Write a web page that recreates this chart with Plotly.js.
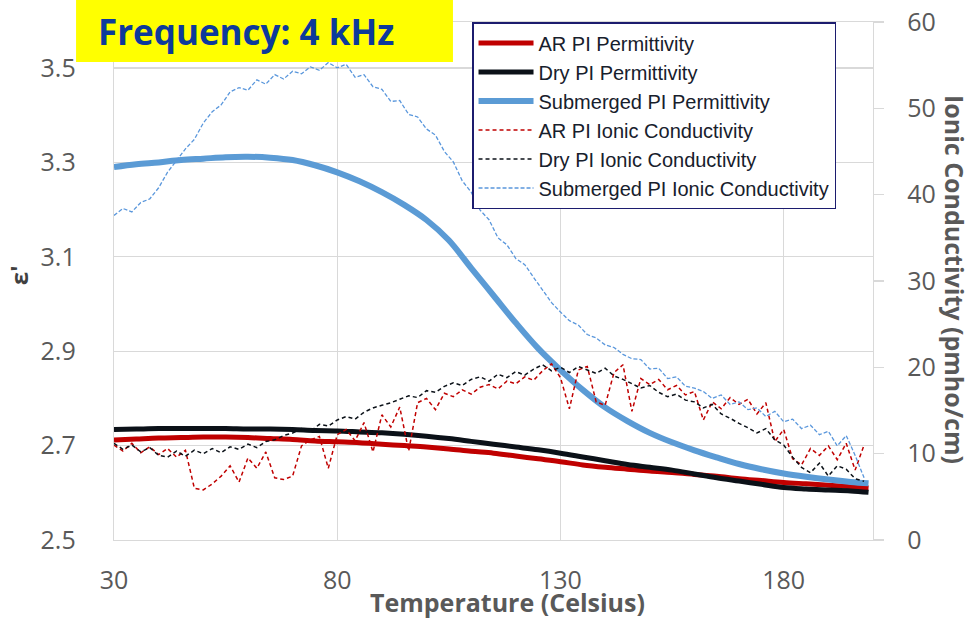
<!DOCTYPE html>
<html><head><meta charset="utf-8">
<script src="https://cdn.plot.ly/plotly-3.0.1.min.js"></script>
<style>html,body{margin:0;padding:0;background:#fff}#chart{width:973px;height:620px}</style>
</head><body><div id="chart"></div>
<script>
// Temperatures (Celsius) for the smooth permittivity curves
const tempsPerm = [30,35,40,45,50,55,60,65,70,75,80,85,90,95,100,105,110,115,120,125,130,135,140,145,150,155,160,165,170,175,180,185,190,195,199];
const arPerm  = [2.712,2.714,2.716,2.717,2.718,2.718,2.717,2.715,2.713,2.710,2.708,2.706,2.703,2.700,2.697,2.693,2.688,2.684,2.678,2.672,2.666,2.659,2.654,2.650,2.646,2.643,2.639,2.635,2.630,2.626,2.622,2.619,2.616,2.613,2.610];
const dryPerm = [2.734,2.735,2.736,2.736,2.736,2.736,2.735,2.735,2.734,2.732,2.731,2.729,2.727,2.724,2.720,2.715,2.709,2.703,2.697,2.691,2.684,2.676,2.668,2.660,2.654,2.648,2.640,2.632,2.625,2.618,2.611,2.608,2.606,2.604,2.601];
const subPerm = [3.290,3.296,3.300,3.305,3.308,3.311,3.312,3.310,3.305,3.294,3.279,3.260,3.237,3.210,3.178,3.135,3.076,3.018,2.960,2.906,2.860,2.818,2.781,2.752,2.727,2.707,2.690,2.675,2.661,2.650,2.641,2.634,2.628,2.623,2.620];

// Temperatures (Celsius) for the noisy ionic conductivity curves
const tempsCond = [30,32,34,36,38,40,42,44,46,48,50,52,54,56,58,60,62,64,66,68,70,72,74,76,78,80,82,84,86,88,90,92,94,96,98,100,102,104,106,108,110,112,114,116,118,120,122,124,126,128,130,132,134,136,138,140,142,144,146,148,150,152,154,156,158,160,162,164,166,168,170,172,174,176,178,180,182,184,186,188,190,192,194,196,198];
const arCond  = [11.0,10.3,11.2,10.1,10.8,9.9,10.6,9.6,10.4,6.0,5.8,6.5,7.4,8.6,6.7,9.5,8.3,10.2,7.2,7.0,7.4,10.9,11.6,12.0,8.3,12.2,12.8,11.5,13.6,10.2,14.5,13.1,15.4,10.3,15.9,16.4,15.1,17.0,16.6,17.4,16.9,17.7,18.0,17.5,18.4,18.1,18.9,18.5,19.6,20.4,18.8,15.2,19.7,20.1,16.0,15.6,19.4,20.3,14.9,18.7,18.0,18.6,17.4,17.9,16.8,17.2,13.9,16.0,15.2,16.5,15.7,16.3,14.6,15.9,11.4,12.8,9.4,8.7,10.6,9.8,10.9,9.3,11.2,8.1,11.0];
const dryCond = [11.2,10.5,11.0,10.2,10.7,9.8,9.6,10.3,9.7,10.4,10.0,10.6,10.1,10.8,10.5,11.1,10.7,11.4,11.6,12.1,12.4,12.9,12.6,13.4,13.2,13.9,14.3,14.0,14.8,15.3,15.6,15.9,16.3,16.7,16.5,17.3,17.1,17.8,18.2,17.9,18.6,18.9,18.4,19.2,18.8,19.5,19.1,19.8,20.3,19.6,20.0,19.4,20.1,19.7,19.3,19.9,19.0,18.6,18.1,17.6,17.9,17.1,16.6,16.9,16.2,16.0,15.3,15.7,14.6,14.1,13.5,13.0,12.4,12.9,11.6,11.0,9.6,8.4,7.8,8.9,7.4,8.6,8.2,7.1,6.8];
const subCond = [37.6,38.4,38.0,39.1,39.5,40.8,42.6,43.9,45.3,46.4,48.3,49.6,50.4,51.9,52.4,52.1,53.3,52.8,53.9,53.4,54.3,54.0,54.8,54.4,55.3,54.7,55.1,53.6,53.9,52.5,52.2,50.8,50.9,49.3,49.0,47.6,46.9,45.0,43.8,41.6,40.3,38.2,37.1,35.0,34.2,32.6,31.9,30.4,28.9,27.5,26.4,25.4,24.9,23.8,23.4,22.6,22.3,21.5,21.0,20.9,19.8,19.9,18.7,18.9,17.8,17.6,17.2,16.4,16.8,15.7,16.0,15.1,15.3,14.3,14.9,13.7,14.0,12.9,13.3,12.2,12.6,10.9,12.1,9.8,7.2];

const seriesNames = ["AR PI Permittivity","Dry PI Permittivity","Submerged PI Permittivity","AR PI Ionic Conductivity","Dry PI Ionic Conductivity","Submerged PI Ionic Conductivity"];
const xTicks = [30,80,130,180];
const yTicks = [2.5,2.7,2.9,3.1,3.3,3.5];
const y2Ticks = [0,10,20,30,40,50,60];

const RED = '#c00000', BLK = '#0b1118', BLU = '#5b9bd5', BLU2 = '#5a97dc';

const traces = [
  {x: tempsPerm, y: arPerm,  name: seriesNames[0], mode:'lines', line:{color:RED, width:5, shape:'spline'}, yaxis:'y'},
  {x: tempsPerm, y: dryPerm, name: seriesNames[1], mode:'lines', line:{color:BLK, width:5, shape:'spline'}, yaxis:'y'},
  {x: tempsPerm, y: subPerm, name: seriesNames[2], mode:'lines', line:{color:BLU, width:6, shape:'spline'}, yaxis:'y'},
  {x: tempsCond, y: arCond,  name: seriesNames[3], mode:'lines', line:{color:RED, width:1.5, dash:'4px,3px'}, yaxis:'y2'},
  {x: tempsCond, y: dryCond, name: seriesNames[4], mode:'lines', line:{color:BLK, width:1.5, dash:'4px,3px'}, yaxis:'y2'},
  {x: tempsCond, y: subCond, name: seriesNames[5], mode:'lines', line:{color:BLU2, width:1.3, dash:'4px,2px'}, yaxis:'y2'}
];

const tickFont = {family:'Open Sans, sans-serif', size:25, color:'#595959'};
const layout = {
  width:973, height:620,
  margin:{l:114, r:100, t:22, b:80},
  paper_bgcolor:'#ffffff', plot_bgcolor:'#ffffff',
  showlegend:true,
  legend:{x:0.4717, y:1.0, xanchor:'left', yanchor:'top', bgcolor:'#ffffff', bordercolor:'#1c1c6e', borderwidth:1.5,
          font:{family:'Liberation Sans, Arial, sans-serif', size:20, color:'#17202c'}, tracegroupgap:0, itemwidth:55},
  xaxis:{range:[30,200], tickvals:xTicks, ticktext:xTicks.map(String), showgrid:true, gridcolor:'#d9d9d9', gridwidth:1.3,
         showline:true, linecolor:'#d9d9d9', linewidth:1.3, mirror:true, zeroline:false, ticks:'', tickfont:tickFont, ticklabelstandoff:18},
  yaxis:{range:[2.5,3.5975], tickvals:yTicks, ticktext:yTicks.map(v=>v.toFixed(1)), showgrid:true, gridcolor:'#d9d9d9', gridwidth:1.3,
         showline:true, linecolor:'#d9d9d9', linewidth:1.3, zeroline:false, ticks:'', tickfont:tickFont, ticklabelstandoff:32},
  yaxis2:{range:[0,60], tickvals:y2Ticks, ticktext:y2Ticks.map(String), overlaying:'y', side:'right', showgrid:false,
          showline:true, linecolor:'#d9d9d9', linewidth:1.3, zeroline:false, ticks:'outside', ticklen:10, tickcolor:'#d9d9d9', tickwidth:1.3,
          tickfont:tickFont, ticklabelstandoff:18},
  shapes:[{type:'rect', xref:'paper', yref:'paper', x0:-0.05, x1:0.4466, y0:0.9228, y1:1.05, fillcolor:'#ffff00', line:{width:0}, layer:'above'}],
  annotations:[
    {text:'<b>Frequency: 4 kHz</b>', xref:'paper', yref:'paper', x:-0.024, y:0.981, xanchor:'left', yanchor:'middle', showarrow:false,
     font:{family:'Open Sans, sans-serif', size:35, color:'#0d3a9b'}},
    {text:'<b>Temperature (Celsius)</b>', xref:'paper', yref:'paper', x:0.519, y:-0.119, xanchor:'center', yanchor:'middle', showarrow:false,
     font:{family:'Open Sans, sans-serif', size:25, color:'#595959'}},
    {text:'<b>Ionic Conductivity (pmho/cm)</b>', xref:'paper', yref:'paper', x:1.108, y:0.502, xanchor:'center', yanchor:'middle', textangle:90, showarrow:false,
     font:{family:'Open Sans, sans-serif', size:25, color:'#595959'}},
    {text:"<b>ε'</b>", xref:'paper', yref:'paper', x:-0.126, y:0.512, xanchor:'center', yanchor:'middle', textangle:-90, showarrow:false,
     font:{family:'Open Sans, sans-serif', size:24, color:'#404040'}}
  ]
};
Plotly.newPlot('chart', traces, layout, {displayModeBar:false, staticPlot:true});
</script></body></html>
